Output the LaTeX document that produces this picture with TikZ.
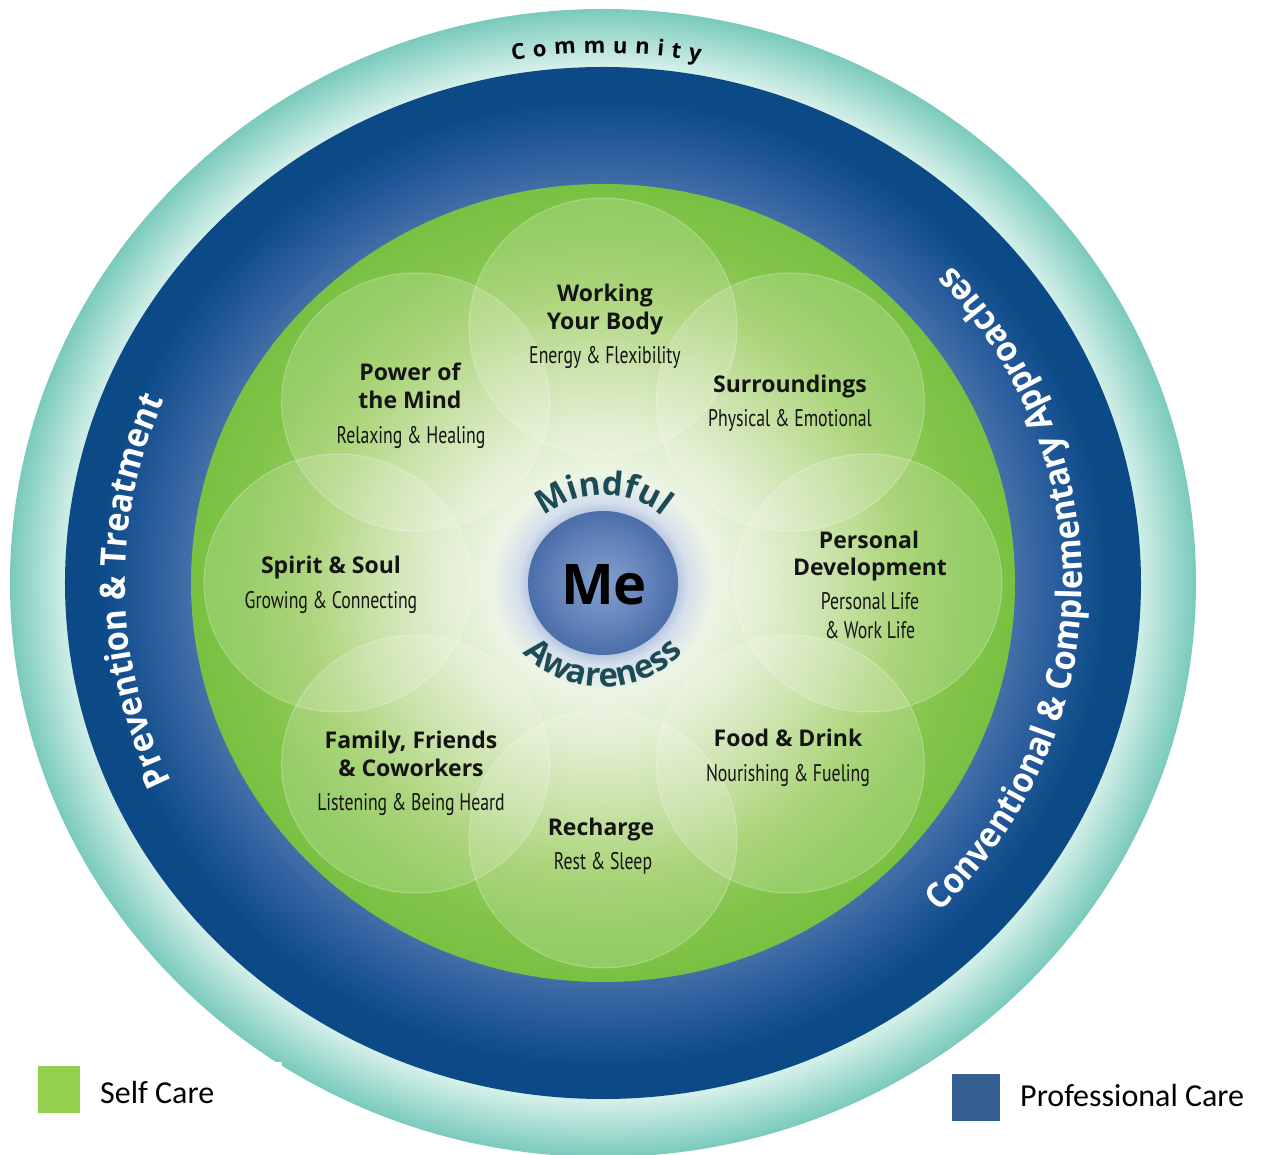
\documentclass[tikz,border=0pt]{standalone}
\usepackage{fontspec}
\setmainfont{Open Sans}
\newfontfamily\headfam{Open Sans}
\newfontfamily\subfam[FakeStretch=0.74]{PT Sans}
\newfontfamily\ringfam[FakeStretch=0.93]{Open Sans}
\newfontfamily\legendfam{Carlito}
\usetikzlibrary{decorations.text,fadings}

\newcommand\headfont{\headfam\bfseries\fontsize{23}{28}\selectfont}
\newcommand\subfont{\subfam\fontsize{24}{28}\selectfont}
\newcommand\ringfont{\ringfam\bfseries\fontsize{35}{40}\selectfont}
\newcommand\commfont{\headfam\bfseries\fontsize{22}{26}\selectfont}
\newcommand\mindfont{\headfam\bfseries\fontsize{33}{36}\selectfont}
\newcommand\mefont{\headfam\bfseries\fontsize{56}{60}\selectfont}
\newcommand\legendfont{\legendfam\fontsize{32}{36}\selectfont}

% palette
\definecolor{tealDeep}{HTML}{7ACABC}
\definecolor{tealLite}{HTML}{D2EFE8}
\definecolor{blueDeep}{HTML}{0B4A86}
\definecolor{blueMid}{HTML}{24599A}
\definecolor{blueLite}{HTML}{4571A8}
\definecolor{gA}{HTML}{FFFFFF}
\definecolor{gB}{HTML}{F2F8EC}
\definecolor{gC}{HTML}{EDF5E5}
\definecolor{gD}{HTML}{DCECC8}
\definecolor{gE}{HTML}{BFDD98}
\definecolor{gF}{HTML}{9DCD62}
\definecolor{gG}{HTML}{82C44A}
\definecolor{gH}{HTML}{79C142}
\definecolor{haloIn}{HTML}{B0C0DC}
\definecolor{haloMid}{HTML}{D6DFEC}
\definecolor{meCore}{HTML}{839FCC}
\definecolor{meMid}{HTML}{6A89BF}
\definecolor{meEdge}{HTML}{4B6EA9}
\definecolor{mindcol}{HTML}{1D4B55}
\definecolor{selfgreen}{HTML}{92D050}
\definecolor{profblue}{HTML}{365F91}
\definecolor{inkcol}{HTML}{141414}

% ring and disc shadings (25bp = edge of the shaded ellipse)
\pgfdeclareradialshading{tealring}{\pgfpoint{0bp}{0bp}}{%
  color(0bp)=(tealLite); color(22.6bp)=(tealLite); color(25bp)=(tealDeep); color(50bp)=(tealDeep)}
\pgfdeclareradialshading{bluering}{\pgfpoint{0bp}{0bp}}{%
  color(0bp)=(blueLite); color(19bp)=(blueLite); color(21.5bp)=(blueMid); color(23.5bp)=(blueDeep); color(50bp)=(blueDeep)}
\pgfdeclareradialshading{greendisc}{\pgfpoint{0bp}{0bp}}{%
  color(0bp)=(gA); color(4.5bp)=(gB); color(6.7bp)=(gC); color(10bp)=(gD); color(14bp)=(gE); color(18bp)=(gF); color(22bp)=(gG); color(25bp)=(gH); color(50bp)=(gH)}
\pgfdeclareradialshading{mehalo}{\pgfpoint{0bp}{0bp}}{%
  color(0bp)=(haloIn); color(16bp)=(haloIn); color(19bp)=(haloMid); color(25bp)=(gC); color(50bp)=(gC)}
\pgfdeclareradialshading{meball}{\pgfpoint{0bp}{0bp}}{%
  color(0bp)=(meCore); color(12bp)=(meMid); color(25bp)=(meEdge); color(50bp)=(meEdge)}

\tikzfading[name=fade ends, left color=transparent!100, middle color=transparent!0, right color=transparent!100]

\tikzset{
  petal/.style={fill=white, fill opacity=0.17, draw=white, draw opacity=0.28, line width=1pt},
  head/.style={font=\headfont, text=inkcol, anchor=base, inner sep=0pt},
  sub/.style={font=\subfont, text=inkcol, anchor=base, inner sep=0pt},
  rule/.style={fill=black!85, path fading=fade ends},
  legendtxt/.style={font=\legendfont, text=black, anchor=base west, inner sep=0pt},
}

\begin{document}
\begin{tikzpicture}[x=1pt,y=1pt]
\useasboundingbox (-603,-572) rectangle (660,583);
\fill[white] (-603,-572) rectangle (660,583);
\coordinate (C) at (0,0);

% concentric rings
\shade[shading=tealring] (C) ellipse [x radius=593, y radius=574];
\shade[shading=bluering] (C) ellipse [x radius=538, y radius=516];
\shade[shading=greendisc] (C) ellipse [x radius=412, y radius=399];

% eight overlapping petals
\foreach \a in {90,45,0,315,270,225,180,135}
  \path[petal] (C) ++(\a:265pt and 256pt) ellipse [x radius=134, y radius=129];

% centre
\shade[shading=mehalo] (C) ellipse [x radius=112, y radius=108];
\shade[shading=meball] (C) ellipse [x radius=75, y radius=72];
\node[font=\mefont, text=black, anchor=base, inner sep=0pt] (me) at (1,-22) {Me};

\path[decorate, decoration={text along path, text align=center, text color=mindcol,
    text={|\mindfont|Mindful}}]
  (C) ++(150:91pt and 88pt) arc [start angle=150, end angle=30, x radius=91, y radius=88];
\path[decorate, decoration={text along path, text align=center, text color=mindcol,
    text={|\mindfont|Awareness}}]
  (C) ++(200:108pt and 104pt) arc [start angle=200, end angle=340, x radius=108, y radius=104];

% ring labels
\path[decorate, decoration={text along path, text align=fit to path, text color=black,
    text={|\commfont|Community}}]
  (C) ++(99.5:549pt and 530pt) arc [start angle=99.5, end angle=79.8, x radius=549, y radius=530];
\path[decorate, decoration={text along path, text align=center, text color=white,
    text={|\ringfont|Prevention {\&} Treatment}}]
  (C) ++(216:478pt and 461pt) arc [start angle=216, end angle=146, x radius=478, y radius=461];
\path[decorate, decoration={text along path, text align=center, text color=white,
    text={|\ringfont|Conventional {\&} Complementary Approaches}}]
  (C) ++(-62.5:479pt and 462pt) arc [start angle=-62.5, end angle=60.5, x radius=479, y radius=462];

% petal captions
\node[head] (bodyA) at (2,281) {Working};
\node[head] (bodyB) at (2,253) {Your Body};
\fill[rule] (-58,241.3) rectangle (62,242.7);
\node[sub] (bodyS) at (2,219) {Energy \& Flexibility};

\node[head] (mindA) at (-193,202) {Power of};
\node[head] (mindB) at (-193,174) {the Mind};
\fill[rule] (-253,162.3) rectangle (-125,163.7);
\node[sub] (mindS) at (-192,139) {Relaxing \& Healing};

\node[head] (surrA) at (187,190) {Surroundings};
\fill[rule] (119,179.3) rectangle (255,180.7);
\node[sub] (surrS) at (187,156) {Physical \& Emotional};

\node[head] (spirA) at (-272,9) {Spirit \& Soul};
\fill[rule] (-330,-2.7) rectangle (-213,-1.3);
\node[sub] (spirS) at (-272,-26) {Growing \& Connecting};

\node[head] (persA) at (266,34) {Personal};
\node[head] (persB) at (267,7) {Development};
\fill[rule] (195,-3.7) rectangle (329,-2.3);
\node[sub] (persS) at (267,-27) {Personal Life};
\node[sub] (persT) at (267,-56) {\& Work Life};

\node[head] (famA) at (-192,-166) {Family, Friends};
\node[head] (famB) at (-192,-194) {\& Coworkers};
\fill[rule] (-264,-205.7) rectangle (-104,-204.3);
\node[sub] (famS) at (-192,-228) {Listening \& Being Heard};

\node[head] (foodA) at (185,-164) {Food \& Drink};
\fill[rule] (110,-176.7) rectangle (255,-175.3);
\node[sub] (foodS) at (185,-199) {Nourishing \& Fueling};

\node[head] (rechA) at (-2,-253) {Recharge};
\fill[rule] (-55,-264.7) rectangle (52,-263.3);
\node[sub] (rechS) at (0,-287) {Rest \& Sleep};

% legend
\fill[white] (-603,-479) rectangle (-321,-572);
\node[fill=selfgreen, minimum width=42pt, minimum height=47pt, inner sep=0pt, anchor=north west] (selfsq) at (-565,-483) {};
\node[legendtxt] (selftxt) at (-503,-520) {Self Care};
\node[fill=profblue, minimum width=48pt, minimum height=47pt, inner sep=0pt, anchor=north west] (profsq) at (349,-491) {};
\node[legendtxt] (proftxt) at (417,-523) {Professional Care};
\end{tikzpicture}
\end{document}
